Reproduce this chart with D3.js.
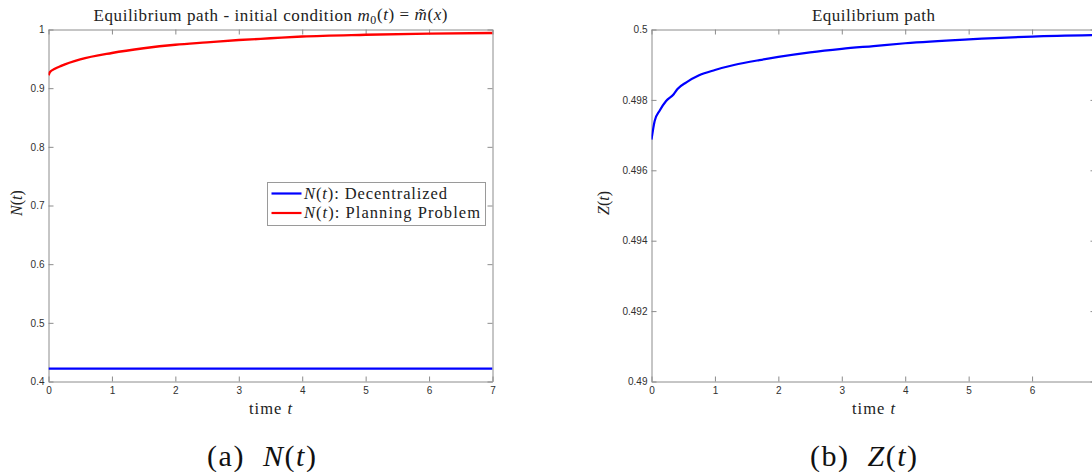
<!DOCTYPE html>
<html><head><meta charset="utf-8">
<script src="https://cdn.jsdelivr.net/npm/d3@7"></script>
<style>body{margin:0;background:#fff} svg{display:block}</style>
</head><body><svg id="c" width="1092" height="472"></svg>
<script>
// ---- data ----
const timePlan = [0, 0.02, 0.1, 0.2, 0.5, 1, 1.5, 2, 2.5, 3, 3.5, 4, 5, 6, 7];
const nPlan    = [0.922, 0.927, 0.933, 0.938, 0.949, 0.960, 0.968, 0.974, 0.978, 0.982, 0.985, 0.988, 0.991, 0.993, 0.994];
const timeDec  = [0, 1, 2, 3, 4, 5, 6, 7];
const nDec     = [0.422, 0.422, 0.422, 0.422, 0.422, 0.422, 0.422, 0.422];
const timeZ    = [0, 0.05, 0.13, 0.23, 0.35, 0.41, 0.55, 0.75, 1, 1.3, 1.7, 2, 2.5, 3, 3.5, 4, 5, 6, 7];
const zVals    = [0.49687, 0.4974, 0.4977, 0.49797, 0.49816, 0.49831, 0.4985, 0.4987, 0.49885, 0.49899, 0.49913, 0.49922, 0.49935, 0.49945, 0.49953, 0.49961, 0.49972, 0.4998, 0.49984];
const xTicks = [0, 1, 2, 3, 4, 5, 6, 7];
const xTickLabels = ["0", "1", "2", "3", "4", "5", "6", "7"];
const yTicksN = [0.4, 0.5, 0.6, 0.7, 0.8, 0.9, 1];
const yTickLabelsN = ["0.4", "0.5", "0.6", "0.7", "0.8", "0.9", "1"];
const yTicksZ = [0.49, 0.492, 0.494, 0.496, 0.498, 0.5];
const yTickLabelsZ = ["0.49", "0.492", "0.494", "0.496", "0.498", "0.5"];
const legendLabels = ["Decentralized", "Planning Problem"];
const seriesColors = ["#0000ff", "#ff0000"];

const W = 1092;
const svg = d3.select("#c");
const SERIF = "'Liberation Serif', 'DejaVu Serif', serif";
const SANS = "'Liberation Sans', Arial, sans-serif";
const AX = "#8c8c8c", LAB = "#303030";

// append math-ish runs: [text, italic?, sub?, dy]
function runs(textSel, parts) {
  parts.forEach(p => {
    const t = textSel.append("tspan").text(p[0]);
    if (p[1]) t.attr("font-style", "italic");
    if (p[2]) t.attr("font-size", "0.7em").attr("dy", "0.25em");
    if (p[3]) t.attr("dy", p[3]);
  });
}
function fit(sel, len) {
  sel.attr("textLength", len).attr("lengthAdjust", "spacing");
}

function panel(id, left, right, top, bottom, yDomain, yTicks, yLabs) {
  const x = d3.scaleLinear().domain([0, 7]).range([left, right]);
  const y = d3.scaleLinear().domain(yDomain).range([bottom, top]);
  const g = svg.append("g");
  g.append("clipPath").attr("id", "clip" + id).append("rect")
    .attr("x", left).attr("y", top - 3).attr("width", right - left).attr("height", bottom - top + 6);
  const fmtX = (d, i) => (x(d) + 4 < W ? xTickLabels[i] : "");
  const fmtY = (d, i) => yLabs[i];
  const styleAxis = a => {
    a.select(".domain").attr("stroke", AX);
    a.selectAll(".tick line").attr("stroke", AX);
    a.selectAll("text").attr("fill", LAB).attr("font-family", SANS).attr("font-size", 10);
  };
  g.append("g").attr("transform", `translate(0,${bottom})`)
    .call(d3.axisBottom(x).tickValues(xTicks).tickFormat(fmtX).tickSizeInner(-5).tickSizeOuter(0).tickPadding(5)).call(styleAxis);
  g.append("g").attr("transform", `translate(0,${top})`)
    .call(d3.axisTop(x).tickValues(xTicks).tickFormat("").tickSizeInner(-5).tickSizeOuter(0)).call(styleAxis);
  g.append("g").attr("transform", `translate(${left},0)`)
    .call(d3.axisLeft(y).tickValues(yTicks).tickFormat(fmtY).tickSizeInner(-5).tickSizeOuter(0).tickPadding(4)).call(styleAxis);
  g.append("g").attr("transform", `translate(${right},0)`)
    .call(d3.axisRight(y).tickValues(yTicks).tickFormat("").tickSizeInner(-5).tickSizeOuter(0)).call(styleAxis);
  const plot = g.append("g").attr("clip-path", `url(#clip${id})`);
  return {x, y, g, plot};
}

const line = (p) => d3.line().x(d => p.x(d[0])).y(d => p.y(d[1])).curve(d3.curveMonotoneX);

// ---- left panel ----
const L = panel("L", 48.5, 492.5, 29.5, 381.5, [0.4, 1], yTicksN, yTickLabelsN);
L.plot.append("path").datum(timeDec.map((t, i) => [t, nDec[i]]))
  .attr("d", line(L)).attr("fill", "none").attr("stroke", seriesColors[0]).attr("stroke-width", 2.2);
L.plot.append("path").datum(timePlan.map((t, i) => [t, nPlan[i]]))
  .attr("d", line(L)).attr("fill", "none").attr("stroke", seriesColors[1]).attr("stroke-width", 2.4);

const t1 = svg.append("text").attr("x", 270.5).attr("y", 21).attr("text-anchor", "middle")
  .attr("font-family", SERIF).attr("font-size", 17).attr("fill", "#222");
runs(t1, [["Equilibrium path - initial condition "], ["m", true], ["0", false, true], ["(", false, false, "-0.25em"], ["t", true], [") = "], ["m\u0303", true], ["("], ["x", true], [")"]]);
fit(t1, 354);

const yl1 = svg.append("text").attr("transform", "translate(22,203) rotate(-90)").attr("text-anchor", "middle")
  .attr("font-family", SERIF).attr("font-size", 16).attr("fill", "#222");
runs(yl1, [["N", true], ["("], ["t", true], [")"]]);

svg.append("text").attr("x", 270.5).attr("y", 414).attr("text-anchor", "middle")
  .attr("font-family", SERIF).attr("font-size", 16.5).attr("fill", "#222")
  .call(s => runs(s, [["time "], ["t", true]])).call(s => fit(s, 43));

// legend
const lg = svg.append("g");
lg.append("rect").attr("x", 267.5).attr("y", 182.5).attr("width", 218).attr("height", 43)
  .attr("fill", "#fff").attr("stroke", "#9a9a9a").attr("stroke-width", 1);
const legendLens = [143, 176];
legendLabels.forEach((lab, i) => {
  const yy = 193.5 + i * 19.5;
  lg.append("line").attr("x1", 271.5).attr("x2", 301.5).attr("y1", yy).attr("y2", yy)
    .attr("stroke", seriesColors[i]).attr("stroke-width", 2.2);
  const tx = lg.append("text").attr("x", 304).attr("y", yy + 5).attr("font-family", SERIF)
    .attr("font-size", 16.5).attr("fill", "#222");
  runs(tx, [["N", true], ["("], ["t", true], ["):  " + lab]]);
  fit(tx, legendLens[i]);
});

// ---- right panel ----
const R = panel("R", 651.5, 1095.5, 29.5, 381.5, [0.49, 0.5], yTicksZ, yTickLabelsZ);
R.plot.append("path").datum(timeZ.map((t, i) => [t, zVals[i]]))
  .attr("d", line(R)).attr("fill", "none").attr("stroke", seriesColors[0]).attr("stroke-width", 2.2);

svg.append("text").attr("x", 873.5).attr("y", 21).attr("text-anchor", "middle")
  .attr("font-family", SERIF).attr("font-size", 17).attr("fill", "#222").text("Equilibrium path")
  .call(s => fit(s, 123));
const yl2 = svg.append("text").attr("transform", "translate(609,203) rotate(-90)").attr("text-anchor", "middle")
  .attr("font-family", SERIF).attr("font-size", 16).attr("fill", "#222");
runs(yl2, [["Z", true], ["("], ["t", true], [")"]]);
svg.append("text").attr("x", 873.5).attr("y", 414).attr("text-anchor", "middle")
  .attr("font-family", SERIF).attr("font-size", 16.5).attr("fill", "#222")
  .call(s => runs(s, [["time "], ["t", true]])).call(s => fit(s, 43));

// captions
[["(a)  ", "N", 261.5, 109], ["(b)  ", "Z", 863.5, 107]].forEach(c => {
  const tx = svg.append("text").attr("x", c[2]).attr("y", 466).attr("text-anchor", "middle")
    .attr("font-family", SERIF).attr("font-size", 30).attr("fill", "#111").attr("xml:space", "preserve");
  runs(tx, [[c[0]], [c[1], true], ["("], ["t", true], [")"]]);
  fit(tx, c[3]);
});
</script></body></html>
